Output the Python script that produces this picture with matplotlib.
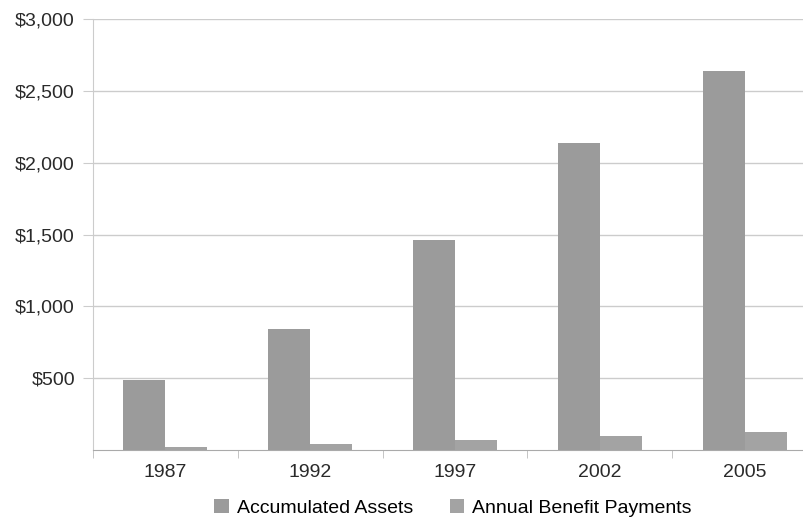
import numpy as np
import matplotlib
matplotlib.use("Agg")
from matplotlib import pyplot as plt
from matplotlib.ticker import FuncFormatter, FixedLocator

plt.rcParams['font.family'] = ['Liberation Sans', 'DejaVu Sans']

# DATA ######################################################################

years = ["1987", "1992", "1997", "2002", "2005"]
accumulated_assets = [487, 842, 1462, 2138, 2640]
annual_benefit_payments = [20, 40, 68, 95, 125]
y_ticks = [500, 1000, 1500, 2000, 2500, 3000]

# PLOT ######################################################################

fig = plt.figure(figsize=(8.04, 5.19), dpi=100)
ax = fig.add_axes([93 / 804, 1 - 450 / 519, (817 - 93) / 804, (450 - 19) / 519])

x = np.arange(len(years))
width = 0.29
ax.bar(x - width / 2, accumulated_assets, width, color='#9b9b9b',
       label='Accumulated Assets', zorder=3)
ax.bar(x + width / 2, annual_benefit_payments, width, color='#a3a3a3',
       label='Annual Benefit Payments', zorder=3)

ax.set_xlim(-0.5, len(years) - 0.5)
ax.set_ylim(0, 3000)

ax.set_yticks(y_ticks)
ax.yaxis.set_major_formatter(FuncFormatter(lambda v, p: "${:,.0f}".format(v)))
ax.grid(axis='y', color='#cccccc', linewidth=1.0, zorder=0)
ax.tick_params(axis='y', length=7, color='#cccccc', pad=6, labelsize=14,
               labelcolor='#2a2a2a')

ax.set_xticks(x)
ax.set_xticklabels(years)
ax.tick_params(axis='x', which='major', length=0, pad=10, labelsize=14,
               labelcolor='#2a2a2a')
ax.xaxis.set_minor_locator(FixedLocator(np.arange(-0.5, len(years), 1.0)))
ax.tick_params(axis='x', which='minor', length=6, color='#bbbbbb')

for side in ('top', 'right'):
    ax.spines[side].set_visible(False)
ax.spines['left'].set_color('#cccccc')
ax.spines['bottom'].set_color('#aaaaaa')

fig.legend(loc='center', bbox_to_anchor=(453 / 804, 1 - 508 / 519), ncol=2,
           frameon=False, fontsize=14, handlelength=0.75, handleheight=0.75,
           handletextpad=0.4, columnspacing=1.9)

fig.savefig("out.png", dpi=100)
